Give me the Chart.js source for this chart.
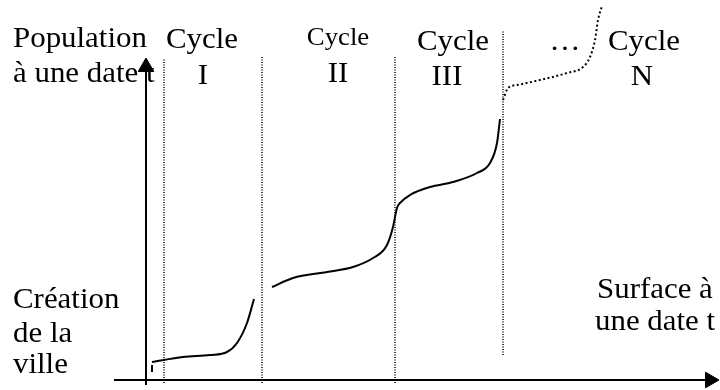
<!DOCTYPE html>
<html>
<head>
<meta charset="utf-8">
<script src="https://cdn.jsdelivr.net/npm/chart.js@4"></script>
<style>
  body { margin: 0; background: #fff; }
  #wrap { width: 720px; height: 390px; }
</style>
</head>
<body>
<div id="wrap"><canvas id="chart" width="720" height="390"></canvas></div>
<script>
// units: surface (x) and population (y), origin at the axes' crossing
const cycle1X = [6, 37, 64, 81, 91, 101, 108];
const cycle1Y = [18, 23, 25, 28, 37, 57, 81];

const cycle23X = [126, 147, 181, 207, 227, 241, 247, 251, 254, 264, 284, 307, 331, 344, 351, 354];
const cycle23Y = [93, 102, 108, 113, 122, 135, 153, 172, 177, 185, 193, 198, 207, 217, 237, 261];

const cycleNX = [357, 362, 371, 394, 421, 437, 444, 449, 452, 456];
const cycleNY = [280, 292, 295, 300, 307, 313, 323, 340, 360, 374];

const startTickX = [6, 6];
const startTickY = [15, 8];

const boundaryX = [18, 116, 249, 357];
const boundaryTop = [322, 323, 323, 350];
const boundaryBottom = [-3, -3, -3, 25];

const cycleTitles = ['Cycle', 'Cycle', 'Cycle', 'Cycle'];
const cycleNumbers = ['I', 'II', 'III', 'N'];
const yTitle = ['Population', 'à une date t'];
const xTitle = ['Surface à', 'une date t'];
const startTitle = ['Création', 'de la', 'ville'];

const pts = (xs, ys) => xs.map((x, i) => ({ x: x, y: ys[i] }));

// where each text sits (data units) and its size
const textLayout = [
    { text: yTitle[0], x: -133, y: 333, align: 'left' },
    { text: yTitle[1], x: -133, y: 298, align: 'left' },
    { text: cycleTitles[0], x: 56, y: 332, align: 'center' },
    { text: cycleNumbers[0], x: 57, y: 296, align: 'center' },
    { text: cycleTitles[1], x: 192, y: 335, align: 'center', size: 26 },
    { text: cycleNumbers[1], x: 192, y: 298, align: 'center' },
    { text: cycleTitles[2], x: 307, y: 330, align: 'center' },
    { text: cycleNumbers[2], x: 301, y: 295, align: 'center' },
    { text: '…', x: 419, y: 330, align: 'center' },
    { text: cycleTitles[3], x: 498, y: 330, align: 'center' },
    { text: cycleNumbers[3], x: 496, y: 295, align: 'center' },
    { text: startTitle[0], x: -133, y: 72, align: 'left' },
    { text: startTitle[1], x: -133, y: 38, align: 'left' },
    { text: startTitle[2], x: -133, y: 7, align: 'left' },
    { text: xTitle[0], x: 451, y: 82, align: 'left' },
    { text: xTitle[1], x: 449, y: 50, align: 'left' }
];

const textPlugin = {
    id: 'diagramText',
    beforeDatasetsDraw(chart) {
        const ctx = chart.ctx;
        const sx = chart.scales.x, sy = chart.scales.y;
        textLayout.forEach(t => {
            ctx.save();
            ctx.font = (t.size || 30) + 'px "Liberation Serif", "Times New Roman", serif';
            ctx.fillStyle = '#000';
            ctx.textAlign = t.align;
            ctx.textBaseline = 'alphabetic';
            ctx.translate(sx.getPixelForValue(t.x), sy.getPixelForValue(t.y));
            ctx.scale(1.03, 1);
            ctx.fillText(t.text, 0, 0);
            ctx.restore();
        });
    }
};

const solid = (data) => ({
    data: data,
    showLine: true,
    borderColor: '#000',
    borderWidth: 2,
    pointRadius: 0,
    cubicInterpolationMode: 'monotone',
    fill: false
});

const boundaries = boundaryX.map((x, i) => ({
    data: [{ x: x, y: boundaryBottom[i] }, { x: x, y: boundaryTop[i] }],
    showLine: true,
    borderColor: '#000',
    borderWidth: 1.5,
    borderDash: [1, 1.5],
    pointRadius: 0
}));

new Chart(document.getElementById('chart'), {
    type: 'scatter',
    data: {
        datasets: [
            ...boundaries,
            // axes
            { data: [{ x: 0, y: -5 }, { x: 0, y: 308 }], showLine: true, borderColor: '#000', borderWidth: 2, pointRadius: 0 },
            { data: [{ x: -32, y: 0 }, { x: 566, y: 0 }], showLine: true, borderColor: '#000', borderWidth: 2, pointRadius: 0 },
            { data: [{ x: 0, y: 313 }], pointStyle: 'triangle', rotation: 0, pointRadius: 9, backgroundColor: '#000', borderColor: '#000', borderWidth: 1 },
            { data: [{ x: 564, y: 0 }], pointStyle: 'triangle', rotation: 90, pointRadius: 9, backgroundColor: '#000', borderColor: '#000', borderWidth: 1 },
            solid(pts(startTickX, startTickY)),
            solid(pts(cycle1X, cycle1Y)),
            solid(pts(cycle23X, cycle23Y)),
            {
                data: pts(cycleNX, cycleNY),
                showLine: true,
                borderColor: '#000',
                borderWidth: 2,
                borderDash: [2, 2.5],
                pointRadius: 0,
                cubicInterpolationMode: 'monotone'
            }
        ]
    },
    options: {
        responsive: false,
        animation: false,
        devicePixelRatio: 1,
        layout: { padding: 0, autoPadding: false },
        scales: {
            x: { type: 'linear', display: false, min: -146, max: 574 },
            y: { type: 'linear', display: false, min: -10, max: 380 }
        },
        plugins: { legend: { display: false }, tooltip: { enabled: false } }
    },
    plugins: [textPlugin]
});
</script>
</body>
</html>
